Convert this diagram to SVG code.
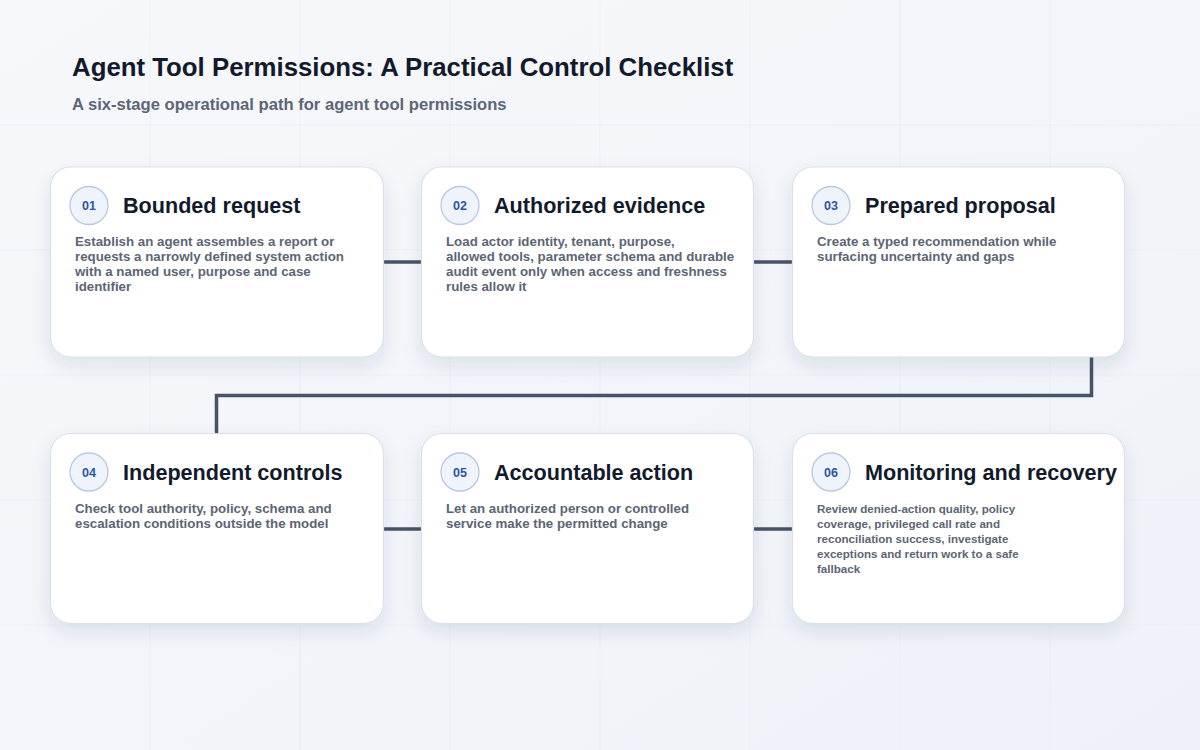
<svg xmlns="http://www.w3.org/2000/svg" width="1200" height="750" viewBox="0 0 1200 750">
<defs>
<linearGradient id="bg" x1="0" y1="0" x2="1" y2="1">
<stop offset="0" stop-color="#f7f8fb"/>
<stop offset="1" stop-color="#eef2f8"/>
</linearGradient>
<filter id="sh" x="-20%" y="-20%" width="140%" height="150%">
<feDropShadow dx="0" dy="8" stdDeviation="9" flood-color="#1e2a46" flood-opacity="0.10"/>
</filter>
<style>
.grid line{stroke:#ebeff5;stroke-width:1}
.card{fill:#ffffff;stroke:#d9e0ea;stroke-width:1.2}
.badge{fill:#eef3fc;stroke:#b9c8df;stroke-width:1.3}
.num{font-family:"Liberation Sans",Arial,sans-serif;font-size:12.5px;font-weight:700;fill:#2d55a4;text-anchor:middle}
.ttl{font-family:"Liberation Sans",Arial,sans-serif;font-size:21.6px;font-weight:700;fill:#121a2b}
.body{font-family:"Liberation Sans",Arial,sans-serif;font-size:13.3px;font-weight:700;fill:#5c6574}
.small{font-size:11.6px}
.conn{fill:none;stroke:#475366;stroke-width:3.5;stroke-linejoin:miter;stroke-linecap:butt}
</style>
</defs>
<rect width="1200" height="750" fill="url(#bg)"/>
<g class="grid">
<line x1="150" y1="0" x2="150" y2="750"/><line x1="300" y1="0" x2="300" y2="750"/><line x1="450" y1="0" x2="450" y2="750"/><line x1="600" y1="0" x2="600" y2="750"/><line x1="750" y1="0" x2="750" y2="750"/><line x1="900" y1="0" x2="900" y2="750"/><line x1="1050" y1="0" x2="1050" y2="750"/>
<line x1="0" y1="125" x2="1200" y2="125"/><line x1="0" y1="250" x2="1200" y2="250"/><line x1="0" y1="375" x2="1200" y2="375"/><line x1="0" y1="500" x2="1200" y2="500"/><line x1="0" y1="625" x2="1200" y2="625"/>
</g>
<text x="72" y="76" font-family="&quot;Liberation Sans&quot;,Arial,sans-serif" font-size="25.8" font-weight="700" fill="#121a2b">Agent Tool Permissions: A Practical Control Checklist</text>
<text x="72" y="110" font-family="&quot;Liberation Sans&quot;,Arial,sans-serif" font-size="16.6" font-weight="700" fill="#5c6676">A six-stage operational path for agent tool permissions</text>
<g id="connectors">
<path class="conn" d="M383 262 H421"/>
<path class="conn" d="M754 262 H792"/>
<path class="conn" d="M1091.5 357 V395.5 H216.5 V433"/>
<path class="conn" d="M383 529 H421"/>
<path class="conn" d="M754 529 H792"/>
</g>
<g id="n1">
<rect class="card" x="50.5" y="167" width="333" height="190" rx="20" filter="url(#sh)"/>
<circle class="badge" cx="89" cy="205.5" r="19"/>
<text class="num" x="89" y="210">01</text>
<text class="ttl" x="123" y="213">Bounded request</text>
<text class="body"><tspan x="75" y="246">Establish an agent assembles a report or</tspan><tspan x="75" y="261">requests a narrowly defined system action</tspan><tspan x="75" y="276">with a named user, purpose and case</tspan><tspan x="75" y="291">identifier</tspan></text>
</g>
<g id="n2">
<rect class="card" x="421.5" y="167" width="332" height="190" rx="20" filter="url(#sh)"/>
<circle class="badge" cx="460" cy="205.5" r="19"/>
<text class="num" x="460" y="210">02</text>
<text class="ttl" x="494" y="213">Authorized evidence</text>
<text class="body"><tspan x="446" y="246">Load actor identity, tenant, purpose,</tspan><tspan x="446" y="261">allowed tools, parameter schema and durable</tspan><tspan x="446" y="276">audit event only when access and freshness</tspan><tspan x="446" y="291">rules allow it</tspan></text>
</g>
<g id="n3">
<rect class="card" x="792.5" y="167" width="332" height="190" rx="20" filter="url(#sh)"/>
<circle class="badge" cx="831" cy="205.5" r="19"/>
<text class="num" x="831" y="210">03</text>
<text class="ttl" x="865" y="213">Prepared proposal</text>
<text class="body"><tspan x="817" y="246">Create a typed recommendation while</tspan><tspan x="817" y="261">surfacing uncertainty and gaps</tspan></text>
</g>
<g id="n4">
<rect class="card" x="50.5" y="433.5" width="333" height="190" rx="20" filter="url(#sh)"/>
<circle class="badge" cx="89" cy="472" r="19"/>
<text class="num" x="89" y="476.5">04</text>
<text class="ttl" x="123" y="479.5">Independent controls</text>
<text class="body"><tspan x="75" y="513">Check tool authority, policy, schema and</tspan><tspan x="75" y="528">escalation conditions outside the model</tspan></text>
</g>
<g id="n5">
<rect class="card" x="421.5" y="433.5" width="332" height="190" rx="20" filter="url(#sh)"/>
<circle class="badge" cx="460" cy="472" r="19"/>
<text class="num" x="460" y="476.5">05</text>
<text class="ttl" x="494" y="479.5">Accountable action</text>
<text class="body"><tspan x="446" y="513">Let an authorized person or controlled</tspan><tspan x="446" y="528">service make the permitted change</tspan></text>
</g>
<g id="n6">
<rect class="card" x="792.5" y="433.5" width="332" height="190" rx="20" filter="url(#sh)"/>
<circle class="badge" cx="831" cy="472" r="19"/>
<text class="num" x="831" y="476.5">06</text>
<text class="ttl" x="865" y="479.5">Monitoring and recovery</text>
<text class="body small"><tspan x="817" y="513">Review denied-action quality, policy</tspan><tspan x="817" y="528">coverage, privileged call rate and</tspan><tspan x="817" y="543">reconciliation success, investigate</tspan><tspan x="817" y="558">exceptions and return work to a safe</tspan><tspan x="817" y="573">fallback</tspan></text>
</g>
</svg>
